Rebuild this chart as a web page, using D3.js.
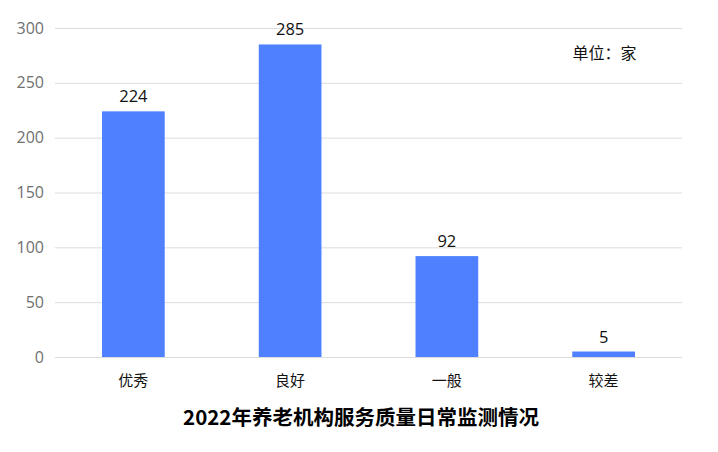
<!DOCTYPE html>
<html><head><meta charset="utf-8">
<script src="https://cdn.jsdelivr.net/npm/d3@7"></script>
<style>body{margin:0;background:#fff;}svg{display:block;}</style>
</head><body>
<script>
const categories = ["优秀", "良好", "一般", "较差"];
const values = [224, 285, 92, 5];
const yTicks = [0, 50, 100, 150, 200, 250, 300];
const title = "2022年养老机构服务质量日常监测情况";
const unitLabel = "单位：家";

const W = 718, H = 452;
const m = {left: 55, right: 36, top: 28, bottom: 95};
const svg = d3.select("body").append("svg").attr("width", W).attr("height", H);
const x = d3.scaleBand().domain(categories).range([m.left, W - m.right]).padding(0);
const y = d3.scaleLinear().domain([0, 300]).range([357, 28]);

const yAxis = svg.append("g").attr("transform", `translate(${m.left},0)`)
  .call(d3.axisLeft(y).tickValues(yTicks).tickSize(-(W - m.right - m.left)).tickPadding(11));
yAxis.select(".domain").remove();
yAxis.selectAll(".tick line").attr("stroke", "#dcdcdc");
yAxis.selectAll(".tick text").attr("fill", "#707070").style("font-family", "'Open Sans', 'Noto Sans', sans-serif").style("font-size", "16px");

const bw = x.bandwidth() * 0.4;
svg.selectAll("rect.bar").data(values).enter().append("rect")
  .attr("x", (d, i) => x(categories[i]) + x.bandwidth() / 2 - bw / 2)
  .attr("y", d => y(d))
  .attr("width", bw)
  .attr("height", d => y(0) - y(d))
  .attr("fill", "#4f80ff");

svg.selectAll("text.val").data(values).enter().append("text")
  .attr("x", (d, i) => x(categories[i]) + x.bandwidth() / 2)
  .attr("y", d => y(d) - 9)
  .attr("text-anchor", "middle")
  .style("font-family", "'Open Sans', 'Noto Sans', sans-serif").style("font-size", "16.5px")
  .attr("fill", "#111").text(d => d);

svg.selectAll("text.cat").data(categories).enter().append("text")
  .attr("x", d => x(d) + x.bandwidth() / 2)
  .attr("y", 386)
  .attr("text-anchor", "middle")
  .style("font-family", "'Noto Sans CJK SC', sans-serif").style("font-size", "15px")
  .attr("fill", "#111").text(d => d);

svg.append("text").attr("x", 604.5).attr("y", 59).attr("text-anchor", "middle")
  .style("font-family", "'Noto Sans CJK SC', sans-serif").style("font-size", "16px")
  .attr("fill", "#111").text(unitLabel);

svg.append("text").attr("x", 361).attr("y", 425).attr("text-anchor", "middle")
  .style("font-family", "'Noto Sans CJK SC', sans-serif").style("font-size", "20.5px").style("font-weight", "bold")
  .attr("fill", "#000").text(title);
</script>
</body></html>
